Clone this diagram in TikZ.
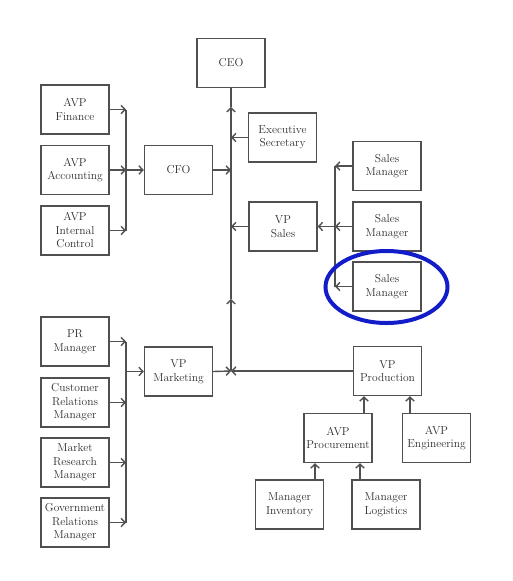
\documentclass[tikz,border=0pt]{standalone}
\usetikzlibrary{arrows.meta}
\definecolor{boxgray}{RGB}{80,80,80}
\definecolor{txtgray}{RGB}{45,45,45}
\definecolor{ringblue}{RGB}{18,28,200}
\tikzset{
  orgbox/.style={draw=boxgray, line width=1.4pt, minimum width=68pt, minimum height=49pt,
    inner sep=1pt, align=center, text=txtgray, font=\fontsize{11.5}{13.5}\selectfont},
  conn/.style={draw=boxgray, line width=1.4pt},
  arr/.style={conn, -{Straight Barb[length=4pt,width=8.5pt,line width=1.4pt]}},
  ring/.style={draw=ringblue, line width=4pt}
}
\begin{document}
\begin{tikzpicture}[x=1pt,y=-1pt]
\useasboundingbox (0,0) rectangle (512,581);
% boxes
\node[orgbox] (ceo) at (231,63) {CEO};
\node[orgbox] (fin) at (75,109.5) {AVP\\Finance};
\node[orgbox] (acc) at (75,170) {AVP\\Accounting};
\node[orgbox] (ic) at (75,230.5) {AVP\\Internal\\Control};
\node[orgbox] (cfo) at (178.5,170) {CFO};
\node[orgbox] (es) at (282.5,137.5) {Executive\\Secretary};
\node[orgbox] (vps) at (283,226.5) {VP\\Sales};
\node[orgbox] (sm1) at (387,166) {Sales\\Manager};
\node[orgbox] (sm2) at (387,226.5) {Sales\\Manager};
\node[orgbox] (sm3) at (387,286.5) {Sales\\Manager};
\node[orgbox] (pr) at (75,341.5) {PR\\Manager};
\node[orgbox] (crm) at (75,402.5) {Customer\\Relations\\Manager};
\node[orgbox] (mrm) at (75,462.5) {Market\\Research\\Manager};
\node[orgbox] (grm) at (75,522.5) {Government\\Relations\\Manager};
\node[orgbox] (vpm) at (178.5,371.5) {VP\\Marketing};
\node[orgbox] (vpp) at (387.5,371) {VP\\Production};
\node[orgbox] (proc) at (338,438) {AVP\\Procurement};
\node[orgbox] (eng) at (436.5,438) {AVP\\Engineering};
\node[orgbox] (inv) at (289.5,504.5) {Manager\\Inventory};
\node[orgbox] (log) at (386,504.5) {Manager\\Logistics};
% helper coordinates
\coordinate (spine) at (231,0);
\coordinate (busF) at (126,0);
\coordinate (busS) at (335,0);
\coordinate (busM) at (126,0);
\coordinate (junc) at (231,371);
\coordinate (up1) at (231,299);
\coordinate (up2) at (231,107);
% spine
\draw[arr] (junc) -- (up1);
\draw[arr] (up1) -- (up2);
\draw[conn] (up2) -- (ceo.south);
% finance group
\draw[arr] (fin.east) -- (fin.east -| busF);
\draw[arr] (acc.east) -- (acc.east -| busF);
\draw[arr] (ic.east) -- (ic.east -| busF);
\draw[conn] (fin.east -| busF) -- (ic.east -| busF);
\draw[arr] (acc.east -| busF) -- (cfo.west);
\draw[arr] (cfo.east) -- (cfo.east -| spine);
% secretary and sales
\draw[arr] (es.west) -- (es.west -| spine);
\draw[arr] (vps.west) -- (vps.west -| spine);
\draw[arr] (sm1.west) -- (sm1.west -| busS);
\draw[arr] (sm2.west) -- (sm2.west -| busS);
\draw[arr] (sm3.west) -- (sm3.west -| busS);
\draw[conn] (sm1.west -| busS) -- (sm3.west -| busS);
\draw[arr] (sm2.west -| busS) -- (vps.east);
% marketing group
\draw[arr] (pr.east) -- (pr.east -| busM);
\draw[arr] (crm.east) -- (crm.east -| busM);
\draw[arr] (mrm.east) -- (mrm.east -| busM);
\draw[arr] (grm.east) -- (grm.east -| busM);
\draw[conn] (pr.east -| busM) -- (grm.east -| busM);
\draw[arr] (vpm.west -| busM) -- (vpm.west);
\draw[arr] (vpm.east) -- (junc);
\draw[arr] (vpp.west) -- (junc);
% production group
\draw[arr] ([xshift=26pt]proc.north) -- ([xshift=26pt]proc.north |- vpp.south);
\draw[arr] ([xshift=-26.5pt]eng.north) -- ([xshift=-26.5pt]eng.north |- vpp.south);
\draw[arr] ([xshift=25.5pt]inv.north) -- ([xshift=25.5pt]inv.north |- proc.south);
\draw[arr] ([xshift=-26pt]log.north) -- ([xshift=-26pt]log.north |- proc.south);
% highlight
\draw[ring] (386.5,287) ellipse [x radius=61, y radius=36];
\end{tikzpicture}
\end{document}
